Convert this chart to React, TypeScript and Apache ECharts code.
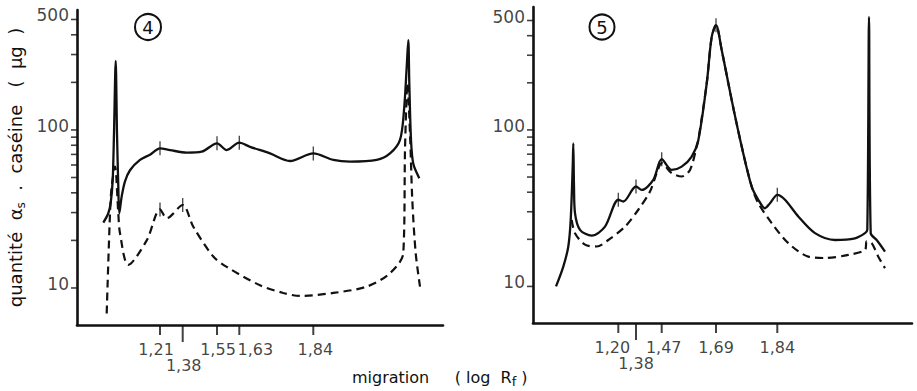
import React, { useEffect, useRef } from "react";
import * as echarts from "echarts";

// Panel 4 (left) — x: migration distance along the axis (axis length units), y: quantity (µg, log)
const leftSolid: [number, number][] = [
  [26.3, 25.9], [31.3, 29.7], [33.7, 34.5], [35.7, 48.3], [37, 95], [38.7, 273],
  [40, 95], [41.3, 43.9], [42.3, 29.7], [44.7, 38], [48, 47.3], [53, 55.6],
  [63, 64.6], [73, 69.7], [83, 76.5], [93, 74.6], [109.7, 71.8], [124.7, 72.8],
  [140, 82.3], [149.7, 74.6], [162.3, 83], [173, 78.2], [193, 71], [213, 63.6],
  [236.3, 71], [256.3, 64.6], [273, 63], [299.7, 64.6], [313, 71], [323, 86.6],
  [327, 133], [329.7, 250], [331.3, 370], [332.3, 198], [334, 86.6], [336.3, 61],
  [342.3, 49.5],
];
const leftDashed: [number, number][] = [
  [29.7, 6.9], [33, 29.7], [34.7, 43.9], [38, 58.6], [41.3, 29.7], [43, 22.2],
  [51.3, 14.0], [69.7, 20], [83, 31.4], [89.7, 27.6], [105.7, 33.5], [116.3, 24.4],
  [136.3, 15.8], [149.7, 13.6], [183, 10.4], [206.3, 9.3], [223, 8.9], [256.3, 9.3],
  [289.7, 10.2], [313, 12.4], [326.3, 16.6], [328, 74.6], [329.7, 171], [330.3, 198],
  [333, 95], [335.3, 36], [338.7, 16.6], [343, 10.2],
];
// Panel 5 (right)
const rightSolid: [number, number][] = [
  [23, 10.0], [30.3, 13.4], [35.3, 18.0], [37.7, 26.6], [39.7, 58.3], [40.3, 82],
  [41, 43.5], [42, 29.4], [47, 23.0], [58.7, 21.1], [72, 24.1], [85.3, 35.8],
  [90.3, 34.9], [103, 43.5], [108.7, 41.4], [120.3, 47.9], [128.7, 65], [138.7, 55.5],
  [148.7, 58.3], [158.7, 67.6], [165.3, 86], [173.7, 198], [178.7, 393], [183, 467],
  [188.7, 324], [198.7, 155], [208.7, 78.3], [218.7, 43.4], [225.3, 35.8], [232, 31.6],
  [237, 34], [244.3, 38.5], [252, 35.8], [265.3, 28], [282, 21.9], [302, 19.8],
  [322, 20.3], [332, 21.9], [334.3, 23.0], [336, 527], [337.7, 21.9], [343.7, 19.8],
  [352, 16.7],
];
const rightDashed: [number, number][] = [
  [38.7, 26.6], [42, 21.9], [52, 18.5], [63.7, 18.0], [75.3, 19.8], [92, 24.1],
  [105.3, 30.9], [117, 40.4], [123.7, 53], [128.7, 61.3], [138.7, 53], [148.7, 50.4],
  [157, 55.5], [163.7, 78.3], [165.3, 86], [173.7, 198], [178.7, 393], [183, 467],
  [188.7, 324], [198.7, 155], [208.7, 78.3], [218.7, 43.4], [225.3, 34],
  [238.7, 25.4], [255.3, 18.9], [275.3, 15.5], [292, 15.2], [315.3, 15.9], [332, 17.1],
  [333.7, 19.4], [338.7, 18.9], [345.3, 15.5], [352, 13.1],
];

// band marks drawn across the curves
const leftSolidMarks: [number, number][] = [[83, 76.5], [140, 82.3], [162.3, 83], [236.3, 71]];
const leftDashedMarks: [number, number][] = [[83, 31.4], [105.7, 33.5]];
const rightSolidMarks: [number, number][] = [[85.3, 35.8], [103, 43.5], [128.7, 65], [183, 467], [244.3, 38.5]];

// x tick positions and labels (log Rf)
const leftTickX = [83, 105.7, 140, 162.3, 236.3];
const leftTickLabels = ["1,21", "1,38", "1,55", "1,63", "1,84"];
const rightTickX = [85.3, 103, 128.7, 183, 244.3];
const rightTickLabels = ["1,20", "1,38", "1,47", "1,69", "1,84"];

// y ticks
const yMajorTicks = [10, 100, 500];
const yMinorTicks = [20, 30, 40, 50, 60, 70, 80, 90, 200, 300, 400];

// layout (not data)
const leftLabelDx = [-4, 1, 1, 16, 2];
const rightLabelDx = [-6, 0, 2, 0, 0];
const INK = "#111";
const FONT = "DejaVu Sans";

export default function App() {
  const ref = useRef<HTMLDivElement>(null);
  useEffect(() => {
    if (!ref.current) return;
    const chart = echarts.init(ref.current, undefined, { renderer: "svg" });

    const panels = [
      { solid: leftSolid, dashed: leftDashed, solidMarks: leftSolidMarks, dashedMarks: leftDashedMarks,
        tickX: leftTickX, tickLabels: leftTickLabels, dx: leftLabelDx, yMin: 5.83, yMax: 574, xMax: 366 },
      { solid: rightSolid, dashed: rightDashed, solidMarks: rightSolidMarks, dashedMarks: [] as [number, number][],
        tickX: rightTickX, tickLabels: rightTickLabels, dx: rightLabelDx, yMin: 5.84, yMax: 610, xMax: 379 },
    ];

    const series: any[] = [];
    panels.forEach((p, i) => {
      const ax = { xAxisIndex: i, yAxisIndex: i };
      series.push({
        type: "line", ...ax, data: p.solid, showSymbol: false, smooth: 0.3,
        lineStyle: { color: INK, width: 2.3 }, z: 3, silent: true,
      });
      series.push({
        type: "line", ...ax, data: p.dashed, showSymbol: false, smooth: 0.3,
        lineStyle: { color: INK, width: 2.2, type: [8, 5] }, z: 2, silent: true,
      });
      series.push({
        type: "scatter", ...ax, data: [...p.solidMarks, ...p.dashedMarks], symbol: "rect",
        symbolSize: [1.3, 14], itemStyle: { color: INK }, clip: false, z: 4, silent: true,
      });
      // x-axis ticks below the axis
      series.push({
        type: "scatter", ...ax, clip: false, silent: true, z: 4,
        data: p.tickX.map((x, k) => ({
          value: [x, p.yMin],
          symbolSize: [2, k === 1 ? 17 : 10],
          symbolOffset: [0, k === 1 ? 8.5 : 5],
        })),
        symbol: "rect", itemStyle: { color: INK },
      });
      // x tick labels
      series.push({
        type: "scatter", ...ax, clip: false, silent: true, z: 4, symbolSize: 0.1,
        itemStyle: { color: "transparent" },
        data: p.tickX.map((x, k) => ({
          value: [x, p.yMin],
          label: {
            show: true, position: "inside", formatter: p.tickLabels[k],
            offset: [p.dx[k], k === 1 ? 40 : 24],
            color: INK, fontSize: 16, fontFamily: FONT,
          },
        })),
      });
      // y ticks
      series.push({
        type: "scatter", ...ax, clip: false, silent: true, z: 4, symbol: "rect",
        symbolSize: [6, 1.6], symbolOffset: [-3, 0], itemStyle: { color: INK },
        data: [...yMajorTicks, ...yMinorTicks].map((v) => [0, v]),
      });
      series.push({
        type: "scatter", ...ax, clip: false, silent: true, z: 4, symbolSize: 0.1,
        itemStyle: { color: "transparent" },
        data: yMajorTicks.map((v) => [0, v]),
        label: {
          show: true, position: "left", distance: 8, offset: [0, -4],
          formatter: (d: any) => String(d.value[1]),
          color: INK, fontSize: 17, fontFamily: FONT,
        },
      });
    });

    const axisLine = { show: true, onZero: false, lineStyle: { color: INK, width: 2.6 } };
    const option: any = {
      animation: false,
      backgroundColor: "#fff",
      textStyle: { fontFamily: FONT },
      grid: [
        { left: 77, right: 474, top: 10, bottom: 66 },
        { left: 533, right: 5, top: 7, bottom: 68 },
      ],
      xAxis: panels.map((p, i) => ({
        type: "value", gridIndex: i, min: 0, max: p.xMax,
        axisLine, axisTick: { show: false }, axisLabel: { show: false }, splitLine: { show: false },
      })),
      yAxis: panels.map((p, i) => ({
        type: "log", logBase: 10, gridIndex: i, min: p.yMin, max: p.yMax,
        axisLine, axisTick: { show: false }, axisLabel: { show: false }, splitLine: { show: false },
        ...(i === 0
          ? {
              name: "quantité  α{s|s}  .  caséine   (  μg  )",
              nameLocation: "middle", nameRotate: 90, nameGap: 50,
              nameTextStyle: {
                color: INK, fontSize: 18, fontFamily: FONT,
                rich: { s: { fontSize: 12, fontFamily: FONT, color: INK, padding: [12, 0, 0, 0] } },
              },
            }
          : {}),
      })),
      series,
      graphic: [
        { type: "circle", shape: { cx: 148, cy: 27, r: 13 }, style: { fill: "none", stroke: INK, lineWidth: 2 } },
        { type: "text", x: 148, y: 27, style: { text: "4", fontSize: 18, fontFamily: FONT, fill: INK, align: "center", verticalAlign: "middle" } },
        { type: "circle", shape: { cx: 602, cy: 27, r: 12.5 }, style: { fill: "none", stroke: INK, lineWidth: 2 } },
        { type: "text", x: 602, y: 27, style: { text: "5", fontSize: 18, fontFamily: FONT, fill: INK, align: "center", verticalAlign: "middle" } },
        {
          type: "text", x: 352, y: 377,
          style: {
            text: "migration     ( log  R{f|f} )",
            fontSize: 16, fontFamily: FONT, fill: INK, verticalAlign: "middle",
            rich: { f: { fontSize: 13, fontFamily: FONT, fill: INK, padding: [8, 0, 0, 0] } } as any,
          },
        },
      ],
    };
    chart.setOption(option);
    return () => chart.dispose();
  }, []);
  return <div ref={ref} style={{ width: 917, height: 391, position: "absolute", left: 0, top: 0 }} />;
}
